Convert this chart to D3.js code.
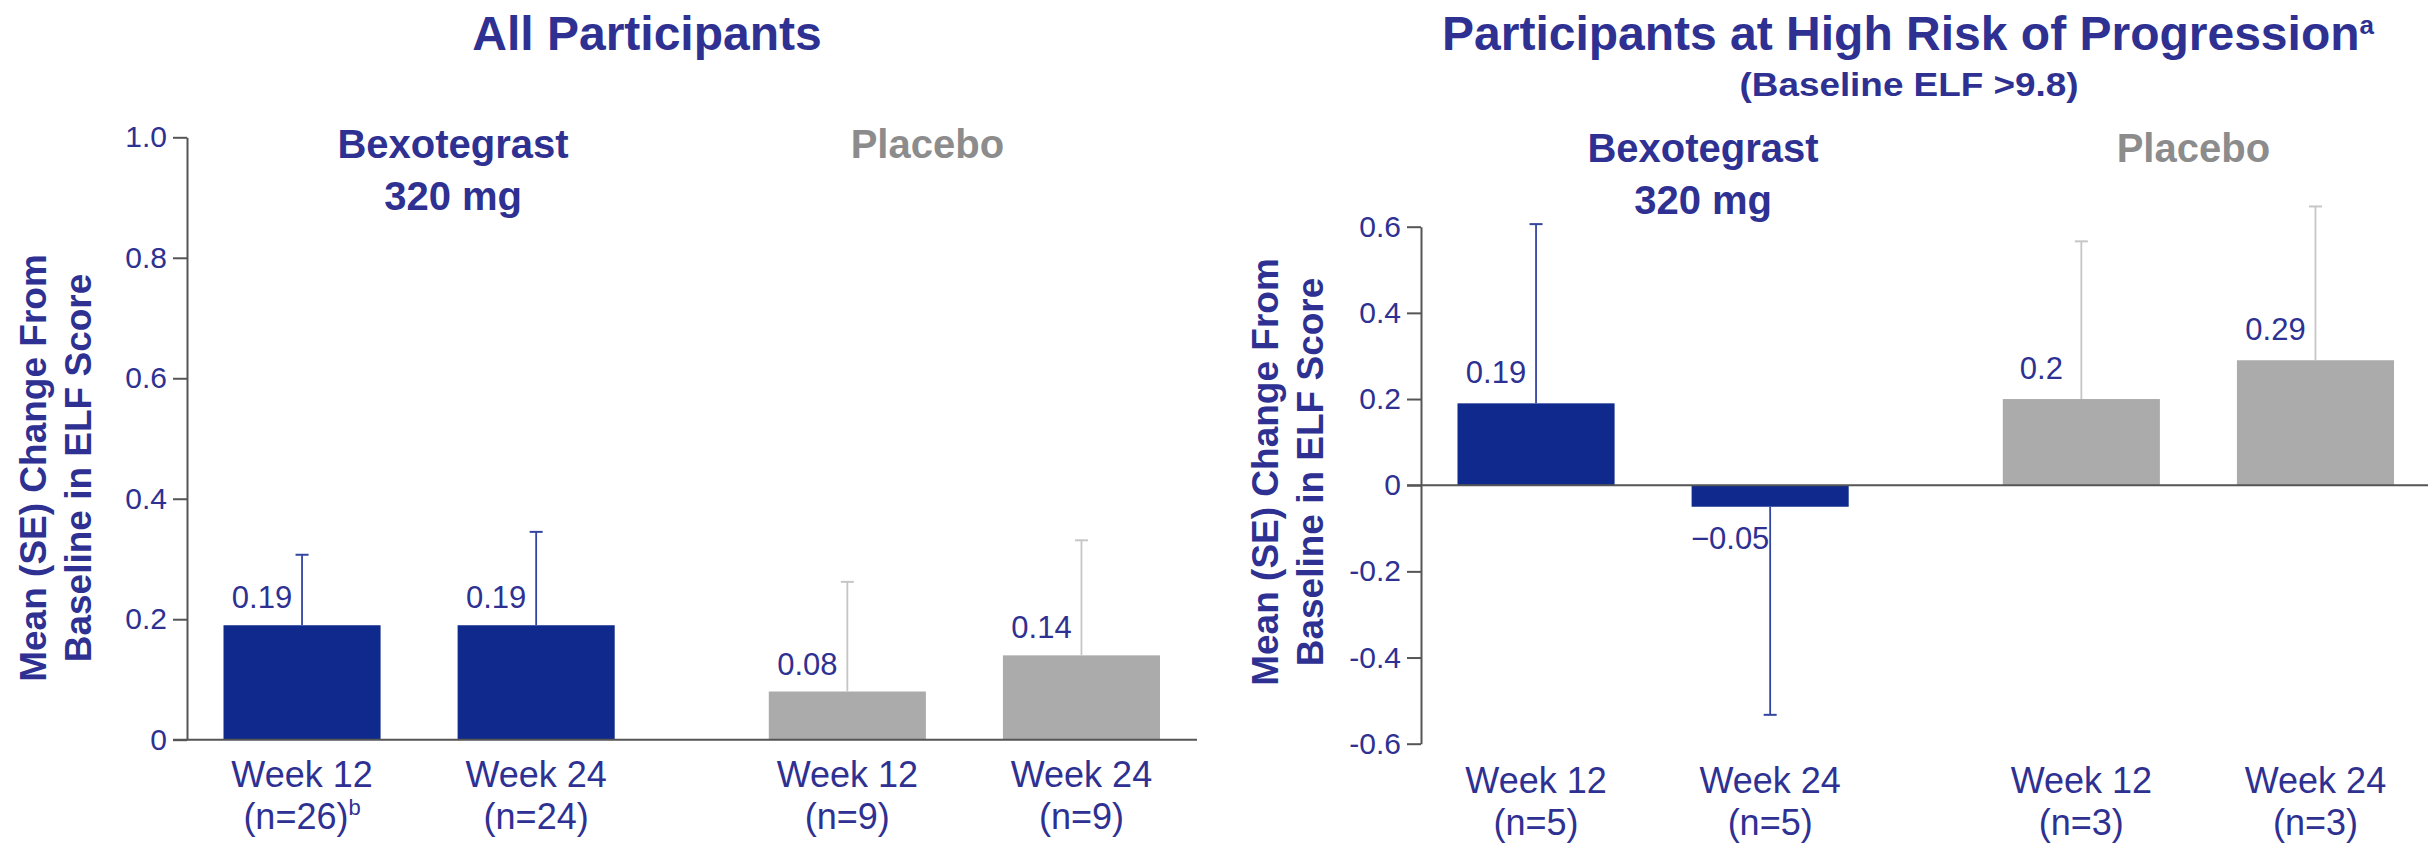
<!DOCTYPE html>
<html>
<head>
<meta charset="utf-8">
<script src="https://cdn.jsdelivr.net/npm/d3@7"></script>
<style>
  body { margin: 0; background: #fff; }
  svg { display: block; font-family: "Liberation Sans", Arial, sans-serif; }
  .tick text { fill: #2e3192; font-size: 30px; }
  .tick line, .domain { stroke: #555; stroke-width: 2; }
</style>
</head>
<body>
<script>
// categories
const groups = ["Bexotegrast 320 mg", "Placebo"];
const weeks = ["Week 12", "Week 24"];

// All participants
const allMeans = [0.19, 0.19, 0.08, 0.14];
const allSE = [0.117, 0.155, 0.182, 0.191];
const allN = ["(n=26)", "(n=24)", "(n=9)", "(n=9)"];
const allSup = ["b", "", "", ""];
const allTicks = [0, 0.2, 0.4, 0.6, 0.8, 1.0];
const allTickLabels = ["0", "0.2", "0.4", "0.6", "0.8", "1.0"];

// High risk of progression
const highMeans = [0.19, -0.05, 0.2, 0.29];
const highSE = [0.416, 0.483, 0.366, 0.357];
const highN = ["(n=5)", "(n=5)", "(n=3)", "(n=3)"];
const highSup = ["", "", "", ""];
const highTicks = [-0.6, -0.4, -0.2, 0, 0.2, 0.4, 0.6];
const highTickLabels = ["-0.6", "-0.4", "-0.2", "0", "0.2", "0.4", "0.6"];

const navy = "#2e3192";
const barColor = { "Bexotegrast 320 mg": "#0f2a8c", "Placebo": "#ababab" };
const errColor = { "Bexotegrast 320 mg": "#3445a0", "Placebo": "#c6c6c6" };

const svg = d3.select("body").append("svg")
    .attr("width", 2428)
    .attr("height", 844);

function fmt(v) {
    return v < 0 ? "\u2212" + Math.abs(v) : String(v);
}

function drawPanel(p) {
    const g = svg.append("g").attr("transform", `translate(${p.axisX},0)`);

    const y = d3.scaleLinear().domain(p.domain).range(p.yRange);
    const x0 = d3.scaleBand().domain(groups).range([36.5, 973]).paddingInner(0.2826);
    const x1 = d3.scaleBand().domain(weeks).range([0, x0.bandwidth()]).paddingInner(0.329);

    const rows = p.means.map((m, i) => ({
        group: groups[Math.floor(i / 2)],
        week: weeks[i % 2],
        mean: m, se: p.se[i], n: p.n[i], sup: p.sup[i]
    }));
    const cx = d => x0(d.group) + x1(d.week) + x1.bandwidth() / 2;

    // bars
    g.selectAll(".bar")
        .data(rows)
        .enter().append("rect")
        .attr("x", d => x0(d.group) + x1(d.week))
        .attr("y", d => y(Math.max(0, d.mean)))
        .attr("width", x1.bandwidth())
        .attr("height", d => Math.abs(y(d.mean) - y(0)))
        .attr("fill", d => barColor[d.group]);

    // error bars (one-sided, away from zero)
    const end = d => y(d.mean + (d.mean < 0 ? -d.se : d.se));
    g.selectAll(".err")
        .data(rows)
        .enter().append("line")
        .attr("x1", cx).attr("x2", cx)
        .attr("y1", d => y(d.mean))
        .attr("y2", end)
        .attr("stroke", d => errColor[d.group])
        .attr("stroke-width", 1.8);
    g.selectAll(".cap")
        .data(rows)
        .enter().append("line")
        .attr("x1", d => cx(d) - 6.5).attr("x2", d => cx(d) + 6.5)
        .attr("y1", end).attr("y2", end)
        .attr("stroke", d => errColor[d.group])
        .attr("stroke-width", 2);

    // value labels
    g.selectAll(".label")
        .data(rows)
        .enter().append("text")
        .attr("x", d => cx(d) - 40)
        .attr("y", d => d.mean < 0 ? y(d.mean) + 42 : y(d.mean) - p.labelGap)
        .attr("text-anchor", "middle")
        .attr("fill", navy)
        .style("font-size", "31px")
        .text(d => fmt(d.mean));

    // y axis
    g.append("g")
        .call(d3.axisLeft(y)
            .tickValues(p.ticks)
            .tickFormat((d, i) => p.tickLabels[i])
            .tickSize(14)
            .tickSizeOuter(0)
            .tickPadding(6));

    // zero line
    g.append("line")
        .attr("x1", -14).attr("x2", p.zeroEnd)
        .attr("y1", y(0)).attr("y2", y(0))
        .attr("stroke", "#555")
        .attr("stroke-width", 2);

    // x labels
    const xl = g.selectAll(".xlab")
        .data(rows)
        .enter().append("text")
        .attr("text-anchor", "middle")
        .attr("fill", navy)
        .style("font-size", "36px");
    xl.append("tspan")
        .attr("x", cx)
        .attr("y", p.xLabelY)
        .text(d => d.week);
    const l2 = xl.append("tspan")
        .attr("x", cx)
        .attr("y", p.xLabelY + 42)
        .text(d => d.n);
    l2.filter(d => d.sup).append("tspan")
        .attr("dy", -14)
        .style("font-size", "22px")
        .text(d => d.sup);

    // group labels
    const gc = grp => x0(grp) + x0.bandwidth() / 2;
    g.append("text")
        .attr("x", gc(groups[0]) + p.bexOffset)
        .attr("y", p.groupY)
        .attr("text-anchor", "middle")
        .attr("fill", navy)
        .style("font-size", "40px").style("font-weight", "bold")
        .text("Bexotegrast");
    g.append("text")
        .attr("x", gc(groups[0]) + p.bexOffset)
        .attr("y", p.groupY + 52)
        .attr("text-anchor", "middle")
        .attr("fill", navy)
        .style("font-size", "40px").style("font-weight", "bold")
        .text("320 mg");
    g.append("text")
        .attr("x", gc(groups[1]) + p.plaOffset)
        .attr("y", p.groupY)
        .attr("text-anchor", "middle")
        .attr("fill", "#8c8c8c")
        .style("font-size", "40px").style("font-weight", "bold")
        .text("Placebo");

    // y axis title
    const yt = g.append("text")
        .attr("transform", `translate(${p.yTitleX},${p.yTitleY}) rotate(-90)`)
        .attr("text-anchor", "middle")
        .attr("fill", navy)
        .style("font-size", "37px").style("font-weight", "bold");
    yt.append("tspan").attr("x", 0).attr("y", 0).text("Mean (SE) Change From");
    yt.append("tspan").attr("x", 0).attr("y", 45).text("Baseline in ELF Score");
}

drawPanel({
    axisX: 187, domain: [0, 1], yRange: [739.7, 137.3],
    means: allMeans, se: allSE, n: allN, sup: allSup,
    ticks: allTicks, tickLabels: allTickLabels,
    labelGap: 17, zeroEnd: 1010, xLabelY: 787,
    groupY: 158, bexOffset: 34, plaOffset: -37,
    yTitleX: 46 - 187, yTitleY: 468
});

drawPanel({
    axisX: 1421, domain: [-0.6, 0.6], yRange: [743.7, 226.7],
    means: highMeans, se: highSE, n: highN, sup: highSup,
    ticks: highTicks, tickLabels: highTickLabels,
    labelGap: 20, zeroEnd: 1010, xLabelY: 793,
    groupY: 162, bexOffset: 50, plaOffset: -5,
    yTitleX: 1278 - 1421, yTitleY: 472
});

// titles
svg.append("text")
    .attr("x", 647).attr("y", 50)
    .attr("text-anchor", "middle")
    .attr("fill", navy)
    .style("font-size", "48px").style("font-weight", "bold")
    .text("All Participants");

const t2 = svg.append("text")
    .attr("x", 1908).attr("y", 50)
    .attr("text-anchor", "middle")
    .attr("fill", navy)
    .style("font-size", "48px").style("font-weight", "bold");
t2.append("tspan").text("Participants at High Risk of Progression");
t2.append("tspan").attr("dy", -16).style("font-size", "26px").text("a");

svg.append("text")
    .attr("x", 1909).attr("y", 96)
    .attr("text-anchor", "middle")
    .attr("fill", navy)
    .attr("textLength", 339)
    .attr("lengthAdjust", "spacingAndGlyphs")
    .style("font-size", "33px").style("font-weight", "bold")
    .text("(Baseline ELF >9.8)");
</script>
</body>
</html>
